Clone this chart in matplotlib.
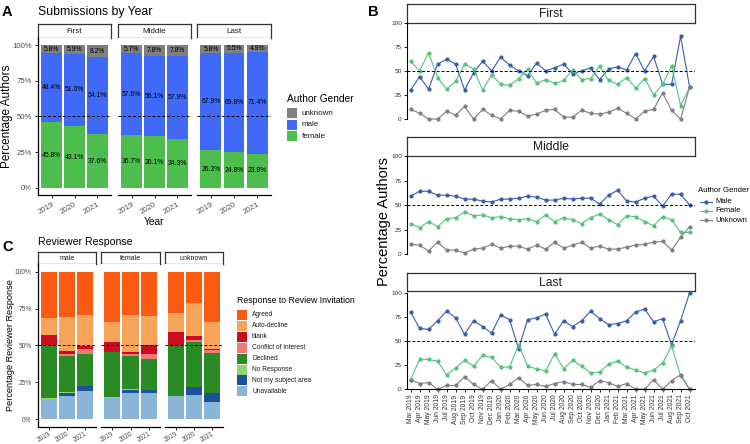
import matplotlib
matplotlib.use('Agg')
import matplotlib.pyplot as plt
from matplotlib.patches import Rectangle
from matplotlib.lines import Line2D
import numpy as np

plt.rcParams['font.family'] = ['Liberation Sans', 'DejaVu Sans']

# ---------------- data ----------------
years = ['2019', '2020', '2021']

a_positions = ['First', 'Middle', 'Last']
a_female = [[45.8, 43.1, 37.6], [36.7, 36.1, 34.3], [26.3, 24.8, 23.8]]
a_male = [[48.4, 51.0, 54.1], [57.6, 56.1, 57.9], [67.9, 69.8, 71.4]]
a_unknown = [[5.8, 5.9, 8.2], [5.7, 7.8, 7.8], [5.8, 5.5, 4.9]]
a_gender_labels = ['unknown', 'male', 'female']

c_groups = ['male', 'female', 'unknown']
c_responses = ['Agreed', 'Auto-decline', 'blank', 'Conflict of interest',
               'Declined', 'No Response', 'Not my subject area', 'Unavailable']
c_unavailable = [[13.5, 15.8, 19.2], [14.5, 17.4, 17.4], [15.4, 16.3, 11.8]]
c_not_subject = [[0.0, 2.1, 3.0], [0.0, 2.5, 2.3], [0.0, 5.6, 5.6]]
c_no_response = [[0.5, 0.2, 0.2], [0.5, 0.2, 0.2], [0.3, 0.2, 0.2]]
c_declined = [[36.0, 24.7, 21.7], [30.2, 22.7, 21.0], [34.3, 30.2, 27.2]]
c_conflict = [[0.3, 1.4, 3.4], [0.3, 1.3, 3.0], [0.0, 1.3, 2.0]]
c_blank = [[6.7, 2.0, 1.8], [6.5, 1.6, 6.3], [9.3, 3.0, 0.7]]
c_auto_decline = [[11.6, 23.0, 21.3], [13.6, 24.9, 19.9], [12.6, 22.1, 18.1]]
c_agreed = [[31.4, 30.8, 29.4], [34.4, 29.4, 29.9], [28.1, 21.3, 34.4]]

months = ['Mar 2019', 'Apr 2019', 'May 2019', 'Jun 2019', 'Jul 2019', 'Aug 2019',
          'Sep 2019', 'Oct 2019', 'Nov 2019', 'Dec 2019', 'Jan 2020', 'Feb 2020',
          'Mar 2020', 'Apr 2020', 'May 2020', 'Jun 2020', 'Jul 2020', 'Aug 2020',
          'Sep 2020', 'Oct 2020', 'Nov 2020', 'Dec 2020', 'Jan 2021', 'Feb 2021',
          'Mar 2021', 'Apr 2021', 'May 2021', 'Jun 2021', 'Jul 2021', 'Aug 2021',
          'Sep 2021', 'Oct 2021']
b_positions = ['First', 'Middle', 'Last']
b_first_male = [30, 44, 31, 57, 62, 57, 30, 48, 60, 50, 64, 56, 50, 45, 58, 50,
                53, 57, 47, 50, 53, 41, 52, 54, 51, 68, 50, 65, 36, 36, 86, 33]
b_first_female = [60, 50, 69, 43, 31, 39, 57, 52, 30, 46, 36, 35, 42, 52, 37, 41,
                  37, 40, 51, 41, 42, 55, 40, 36, 43, 32, 42, 25, 36, 55, 14, 33]
b_first_unknown = [10, 6, 0, 0, 8, 4, 13, 0, 10, 4, 0, 9, 8, 3, 5, 9,
                   10, 2, 2, 9, 6, 5, 7, 11, 6, 0, 8, 10, 27, 9, 0, 33]
b_middle_male = [59, 64, 64, 60, 60, 59, 56, 56, 54, 53, 56, 56, 57, 59, 58, 55,
                 55, 57, 56, 57, 57, 51, 60, 65, 54, 53, 57, 59, 49, 61, 61, 50]
b_middle_female = [31, 27, 33, 28, 36, 37, 43, 39, 40, 37, 38, 36, 35, 36, 33, 40,
                   33, 37, 35, 31, 37, 41, 35, 30, 39, 38, 33, 29, 38, 35, 22, 22]
b_middle_unknown = [10, 9, 3, 12, 4, 4, 1, 5, 6, 10, 6, 8, 8, 5, 9, 5,
                    12, 6, 9, 12, 6, 8, 5, 5, 7, 9, 10, 12, 13, 4, 17, 28]
b_last_male = [80, 63, 62, 71, 81, 74, 57, 71, 65, 58, 77, 72, 42, 72, 74, 78,
               57, 71, 65, 71, 81, 73, 67, 68, 71, 80, 83, 70, 73, 46, 71, 100]
b_last_female = [10, 31, 31, 29, 15, 22, 30, 24, 35, 33, 23, 23, 46, 24, 21, 19,
                 37, 21, 30, 24, 17, 18, 26, 29, 23, 20, 17, 20, 27, 45, 14, 0]
b_last_unknown = [10, 6, 7, 0, 4, 4, 13, 5, 0, 9, 0, 5, 12, 4, 5, 3,
                  6, 8, 5, 5, 2, 9, 7, 3, 6, 0, 0, 10, 0, 9, 15, 0]
b_gender_labels = ['Male', 'Female', 'Unknown']

# ---------------- style ----------------
A_COLORS = {'female': '#4DBE4E', 'male': '#4169F7', 'unknown': '#7F7F7F'}
C_COLORS = ['#FB5A13', '#F8A45A', '#CB0B1E', '#F27777',
            '#2A8A24', '#96D46B', '#1C4F9C', '#89B6D7']
B_COLORS = ['#3A5CAE', '#52C47B', '#7F7F7F']
TICK_GRAY = '#4D4D4D'

W, H = 750, 444
fig = plt.figure(figsize=(7.5, 4.44), dpi=100)


def fx(x):
    return x / W


def fy(y):
    return 1 - y / H


def px_rect(x0, y0, x1, y1):
    return [x0 / W, 1 - y1 / H, (x1 - x0) / W, (y1 - y0) / H]


def strip(x0, y0, x1, y1, label, size):
    ax = fig.add_axes(px_rect(x0, y0, x1, y1))
    ax.set_xticks([])
    ax.set_yticks([])
    ax.set_facecolor('white')
    for s in ax.spines.values():
        s.set_color('#333333')
        s.set_linewidth(0.9)
    ax.text(0.5, 0.45, label, ha='center', va='center', fontsize=size,
            color='#1A1A1A', transform=ax.transAxes)


def patch_legend(x, y_title, title, tsize, labels, colors, y0, step, lsize, key=10):
    fig.text(fx(x), fy(y_title), title, fontsize=tsize, va='center', ha='left')
    for k, (lab, col) in enumerate(zip(labels, colors)):
        yc = y0 + k * step
        fig.patches.append(Rectangle((fx(x), fy(yc + key / 2)), key / W, key / H,
                                     transform=fig.transFigure, facecolor=col,
                                     edgecolor='none'))
        fig.text(fx(x + key + 5), fy(yc), lab, fontsize=lsize, va='center', ha='left',
                 color='#1A1A1A')


# ---------------- Panel A ----------------
a_x = [(38, 111), (118, 191), (197, 271)]
for i, (x0, x1) in enumerate(a_x):
    strip(x0, 24, x1, 38, a_positions[i], 5.8)
    ax = fig.add_axes(px_rect(x0, 38, x1, 195))
    xs = np.arange(len(years))
    f = np.array(a_female[i])
    m = np.array(a_male[i])
    u = np.array(a_unknown[i])
    ax.bar(xs, f, 0.9, color=A_COLORS['female'])
    ax.bar(xs, m, 0.9, bottom=f, color=A_COLORS['male'])
    ax.bar(xs, u, 0.9, bottom=f + m, color=A_COLORS['unknown'])
    for j in range(len(years)):
        ax.text(xs[j], f[j] / 2, f'{f[j]:.1f}%', ha='center', va='center', fontsize=4.9)
        ax.text(xs[j], f[j] + m[j] / 2, f'{m[j]:.1f}%', ha='center', va='center', fontsize=4.9)
        ax.text(xs[j], f[j] + m[j] + u[j] / 2, f'{u[j]:.1f}%', ha='center', va='center', fontsize=4.9)
    ax.axhline(50, ls=(0, (3, 2)), color='black', lw=0.7)
    ax.set_xlim(-0.6, 2.6)
    ax.set_ylim(-5, 105)
    ax.spines['top'].set_visible(False)
    ax.spines['right'].set_visible(False)
    ax.spines['bottom'].set_linewidth(0.9)
    ax.set_xticks(xs)
    ax.set_xticklabels(years, rotation=30, ha='right', rotation_mode='anchor',
                       fontsize=5.6, color=TICK_GRAY)
    ax.tick_params(axis='x', length=2.5, width=0.6, pad=2)
    if i == 0:
        ax.spines['left'].set_linewidth(0.9)
        ax.set_yticks([0, 25, 50, 75, 100])
        ax.set_yticklabels(['0%', '25%', '50%', '75%', '100%'], fontsize=5.6, color=TICK_GRAY)
        ax.tick_params(axis='y', length=2.5, width=0.6, pad=2)
    else:
        ax.spines['left'].set_visible(False)
        ax.set_yticks([])

fig.text(fx(38), fy(12.5), 'Submissions by Year', fontsize=8.8, va='center', ha='left')
fig.text(fx(2), fy(12.5), 'A', fontsize=10.5, fontweight='bold', va='center', ha='left')
fig.text(fx(7), fy(116), 'Percentage Authors', fontsize=8.5, rotation=90, va='center', ha='center')
fig.text(fx(154.5), fy(222), 'Year', fontsize=7.3, va='center', ha='center')
patch_legend(287, 99, 'Author Gender', 7.3, a_gender_labels,
             [A_COLORS[g] for g in a_gender_labels], 113.3, 11.4, 5.8)

# ---------------- Panel C ----------------
c_stack = [c_unavailable, c_not_subject, c_no_response, c_declined,
           c_conflict, c_blank, c_auto_decline, c_agreed]
c_stack_colors = C_COLORS[::-1]
c_x = [(38, 96), (101, 160), (165, 223)]
for i, (x0, x1) in enumerate(c_x):
    strip(x0, 251.7, x1, 264.3, c_groups[i], 5.0)
    ax = fig.add_axes(px_rect(x0, 264.3, x1, 426.5))
    xs = np.arange(len(years))
    bottom = np.zeros(len(years))
    for vals, col in zip(c_stack, c_stack_colors):
        v = np.array(vals[i])
        ax.bar(xs, v, 0.9, bottom=bottom, color=col)
        bottom = bottom + v
    ax.axhline(50, ls=(0, (3, 2)), color='black', lw=0.7)
    ax.set_xlim(-0.6, 2.6)
    ax.set_ylim(-5, 105)
    ax.spines['top'].set_visible(False)
    ax.spines['right'].set_visible(False)
    ax.spines['bottom'].set_linewidth(0.9)
    ax.set_xticks(xs)
    ax.set_xticklabels(years, rotation=30, ha='right', rotation_mode='anchor',
                       fontsize=4.7, color=TICK_GRAY)
    ax.tick_params(axis='x', length=2.0, width=0.6, pad=0.8)
    if i == 0:
        ax.spines['left'].set_linewidth(0.9)
        ax.set_yticks([0, 25, 50, 75, 100])
        ax.set_yticklabels(['0%', '25%', '50%', '75%', '100%'], fontsize=4.8, color=TICK_GRAY)
        ax.tick_params(axis='y', length=2.5, width=0.6, pad=2)
    else:
        ax.spines['left'].set_visible(False)
        ax.set_yticks([])

fig.text(fx(38), fy(241.7), 'Reviewer Response', fontsize=7.6, va='center', ha='left')
fig.text(fx(2), fy(246.7), 'C', fontsize=10.5, fontweight='bold', va='center', ha='left')
fig.text(fx(10.5), fy(345), 'Percentage Reviewer Response', fontsize=6.6, rotation=90,
         va='center', ha='center')
patch_legend(237, 300.7, 'Response to Review Invitation', 6.3, c_responses, C_COLORS,
             315, 10.9, 4.8)

# ---------------- Panel B ----------------
b_series = [(b_first_male, b_first_female, b_first_unknown),
            (b_middle_male, b_middle_female, b_middle_unknown),
            (b_last_male, b_last_female, b_last_unknown)]
b_axes_px = [(4, 22.7, 119), (137, 156, 254), (273, 292.7, 389.3)]
for i, (s_top, a_top, a_bot) in enumerate(b_axes_px):
    strip(407, s_top, 695, a_top if i != 2 else 291, b_positions[i], 8.7)
    ax = fig.add_axes(px_rect(407, a_top, 695, a_bot))
    ax.patch.set_alpha(0)
    xs = np.arange(len(months))
    for vals, col in zip(b_series[i], B_COLORS):
        ax.plot(xs, vals, color=col, lw=0.8, marker='o', markersize=2.0,
                clip_on=False)
    ax.axhline(50, ls=(0, (3, 2)), color='black', lw=0.7)
    ax.set_xlim(-0.4, 31.6)
    ax.set_ylim(0, 100)
    ax.spines['top'].set_visible(False)
    ax.spines['right'].set_visible(False)
    ax.spines['left'].set_linewidth(0.8)
    ax.set_yticks([0, 25, 50, 75, 100])
    ax.set_yticklabels(['0', '25', '50', '75', '100'], fontsize=4.6, color='#333333')
    ax.tick_params(axis='y', length=2.2, width=0.6, pad=1.5)
    if i == 2:
        ax.spines['bottom'].set_linewidth(0.8)
        ax.set_xticks(xs)
        ax.set_xticklabels(months, rotation=90, fontsize=4.9, color='#333333')
        ax.tick_params(axis='x', length=2.2, width=0.6, pad=1.5)
    else:
        ax.spines['bottom'].set_visible(False)
        ax.set_xticks([])

fig.text(fx(368), fy(12.5), 'B', fontsize=10.5, fontweight='bold', va='center', ha='left')
fig.text(fx(384), fy(222), 'Percentage Authors', fontsize=10.5, rotation=90,
         va='center', ha='center')
fig.text(fx(698), fy(190.7), 'Author Gender', fontsize=5.6, va='center', ha='left')
for k, (lab, col) in enumerate(zip(b_gender_labels, B_COLORS)):
    yc = [201.7, 211.0, 220.3][k]
    fig.lines.append(Line2D([fx(700), fx(712)], [fy(yc), fy(yc)], color=col, lw=0.8,
                            transform=fig.transFigure))
    fig.lines.append(Line2D([fx(706)], [fy(yc)], color=col, marker='o', markersize=2.0,
                            transform=fig.transFigure))
    fig.text(fx(715), fy(yc), lab, fontsize=5.5, va='center', ha='left')

fig.savefig('out.png', dpi=100)
